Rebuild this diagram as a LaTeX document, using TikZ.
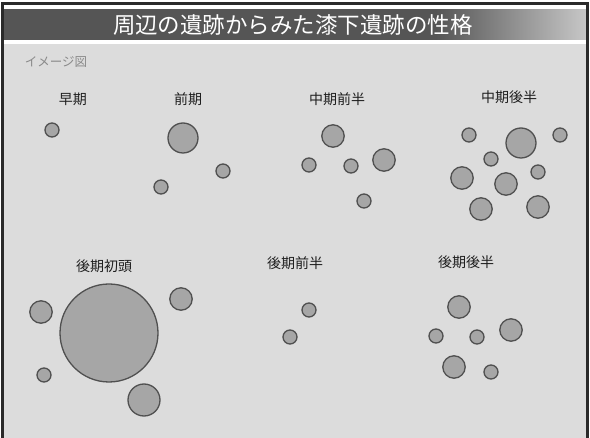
\documentclass[tikz,border=0pt]{standalone}
\usepackage{fontspec}
\setmainfont{Noto Sans CJK JP}
\definecolor{paper}{HTML}{DCDCDC}
\definecolor{frame}{HTML}{2A2A2A}
\definecolor{barD}{HTML}{555555}
\definecolor{barL}{HTML}{C8C8C8}
\definecolor{disc}{HTML}{A6A6A6}
\definecolor{ring}{HTML}{505050}
\definecolor{ink}{HTML}{1E1E1E}
\definecolor{note}{HTML}{8A8A8A}
\pgfdeclarehorizontalshading{titlebar}{100bp}{color(0bp)=(barD); color(62bp)=(barD); color(75bp)=(barL); color(100bp)=(barL)}
\tikzset{
  site/.style={circle,draw=ring,fill=disc,line width=1.3pt,inner sep=0pt},
  era/.style={inner sep=0pt,text=ink,font=\fontsize{14}{14}\selectfont},
}
\begin{document}
\begin{tikzpicture}[x=1pt,y=-1pt]
\useasboundingbox (0,0) rectangle (590,438);
\fill[white] (0,0) rectangle (590,438);
\fill[paper] (3,5) rectangle (588,438);
%
\fill[white] (3,5) rectangle (588,10);
\shade[shading=titlebar] (3,10) rectangle (588,40);
\fill[white] (3,40) rectangle (588,44);
\draw[frame,line width=3pt] (2.5,445) -- (2.5,4) -- (587.5,4) -- (587.5,445);
\node[inner sep=0pt,text=white,font=\fontsize{22.5}{22.5}\selectfont] (title) at (293,25) {周辺の遺跡からみた漆下遺跡の性格};
\node[inner sep=0pt,text=note,font=\fontsize{12.5}{12.5}\selectfont] (note) at (56,62) {イメージ図};
%
\node[era] (l1) at (73,99) {早期};
\node[era] (l2) at (188,99) {前期};
\node[era] (l3) at (337,99) {中期前半};
\node[era] (l4) at (509,97) {中期後半};
\node[era] (l5) at (104,266) {後期初頭};
\node[era] (l6) at (295,263) {後期前半};
\node[era] (l7) at (466,262) {後期後半};
%
\foreach \nm/\cx/\cy/\r in {
  a1/52/130/7,
  b1/183/138/15, b2/223/171/7, b3/161/187/7,
  c1/333/136/11.2, c2/309/165/7, c3/351/166/7, c4/384/160/11.2, c5/364/201/7,
  d1/469/135/7, d2/521/143/15, d3/560/135/7, d4/491/159/7, d5/462/178/11.2,
  d6/506/184/11.2, d7/538/172/7, d8/481/209/11.2, d9/538/207/11.2,
  e1/109/333/49, e2/41/312/11.2, e3/181/299/11.2, e4/44/375/7, e5/144/400/16,
  f1/309/310/7, f2/290/337/7,
  g1/459/307/11.2, g2/436/336/7, g3/477/337/7, g4/511/330/11.2, g5/454/367/11.2, g6/491/372/7}
  \node[site,minimum size={2*\r pt}] (\nm) at (\cx,\cy) {};
\end{tikzpicture}
\end{document}
